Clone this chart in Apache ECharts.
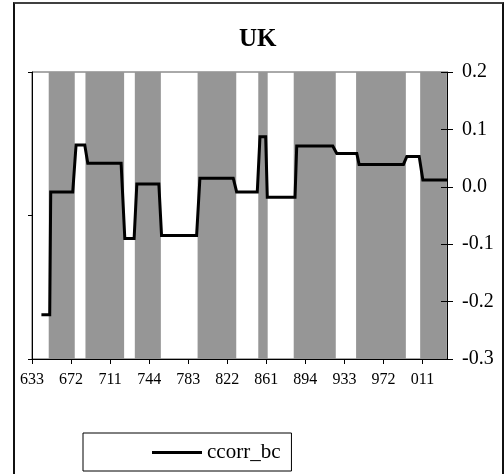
<!DOCTYPE html>
<html>
<head>
<meta charset="utf-8">
<script src="https://cdn.jsdelivr.net/npm/echarts@6/dist/echarts.min.js"></script>
<style>
  html, body { margin: 0; padding: 0; background: #fff; }
  #frame { position: absolute; left: 13px; top: 2px; width: 487px; height: 490px;
           border-top: 2px solid #404040; border-left: 2px solid #111; border-right: 2px solid #111; }
  #chart { position: absolute; left: 0; top: 0; width: 504px; height: 474px; }
</style>
</head>
<body>
<div id="frame"></div>
<div id="chart"></div>
<script>
// x positions are in "index" units: one tick label every 39 units
const tickLabels = ['633', '672', '711', '744', '783', '822', '861', '894', '933', '972', '011'];
const tickStep = 39;
const xMax = 414.5;

// step line ccorr_bc : [x, value]
const seriesName = 'ccorr_bc';
const lineX = [9.4, 17.7, 18.7, 40.7, 44, 52.7, 55.7, 89, 92.7, 102, 104.7, 126.7, 129.4, 164.4,
               167.7, 201, 204.4, 225, 227.7, 233.4, 235, 262.7, 264.4, 300.4, 304.4, 324.4,
               326.7, 371, 374.4, 386.7, 390.4, 414.5];
const lineY = [-0.223, -0.223, -0.009, -0.009, 0.073, 0.073, 0.041, 0.041, -0.09, -0.09, 0.005, 0.005,
               -0.085, -0.085, 0.015, 0.015, -0.009, -0.009, 0.087, 0.087, -0.018, -0.018, 0.071, 0.071,
               0.058, 0.058, 0.039, 0.039, 0.053, 0.053, 0.012, 0.012];

// shaded bands: start / end
const bandStart = [16.7, 53.4, 102.7, 165.4, 226.0, 261.4, 323.7, 387.7];
const bandEnd   = [42.7, 92.0, 128.7, 204.0, 235.4, 303.4, 373.4, 414.0];

const yMin = -0.3, yMax = 0.2, yStep = 0.1;

const FONT = "'Liberation Serif', 'Times New Roman', serif";

const chart = echarts.init(document.getElementById('chart'), null, { renderer: 'canvas' });

const lineData = lineX.map((x, i) => [x, lineY[i]]);
const bands = bandStart.map((s, i) => [
  { xAxis: s },
  { xAxis: bandEnd[i] }
]);

chart.setOption({
  animation: false,
  backgroundColor: 'transparent',
  title: {
    text: 'UK',
    left: 239,
    top: 27,
    padding: 0,
    textStyle: { fontFamily: FONT, fontSize: 25, fontWeight: 'bold', color: '#000' }
  },
  legend: {
    data: [{ name: seriesName, icon: 'rect' }],
    left: 83,
    top: 433,
    padding: [9, 11, 8, 69],
    borderColor: '#000',
    borderWidth: 1,
    itemWidth: 50,
    itemHeight: 3,
    itemStyle: { color: '#000' },
    textStyle: { fontFamily: FONT, fontSize: 21, color: '#000' }
  },
  grid: {
    left: 32, right: 57, top: 72, bottom: 115,
    show: true, borderColor: '#555', borderWidth: 1, backgroundColor: 'transparent'
  },
  xAxis: {
    type: 'value',
    min: 0, max: xMax, interval: tickStep,
    axisLine: { show: true, onZero: false, lineStyle: { color: '#000', width: 1 } },
    axisTick: { show: true, inside: false, length: 5, lineStyle: { color: '#000' } },
    splitLine: { show: false },
    axisLabel: {
      margin: 13,
      fontFamily: FONT, fontSize: 16, color: '#000',
      showMaxLabel: false,
      formatter: v => { const i = Math.round(v / tickStep); return (Math.abs(v - i * tickStep) < 1e-6 && tickLabels[i]) ? tickLabels[i] : ''; }
    }
  },
  yAxis: [
    {
      type: 'value', position: 'right', min: yMin, max: yMax, interval: yStep, z: 10,
      axisLine: { show: true, onZero: false, lineStyle: { color: '#000', width: 1 } },
      axisTick: { show: true, inside: false, length: 6, lineStyle: { color: '#000' } },
      splitLine: { show: false },
      axisLabel: {
        margin: 15, fontFamily: FONT, fontSize: 20, color: '#000',
        formatter: v => (Math.abs(v) < 1e-9 ? 0 : v).toFixed(1)
      }
    },
    {
      type: 'value', position: 'right', min: yMin, max: yMax, interval: yStep, z: 10,
      axisLine: { show: false, onZero: false },
      axisTick: { show: true, inside: true, length: 6, lineStyle: { color: '#000' } },
      axisLabel: { show: false },
      splitLine: { show: false }
    },
    {
      type: 'value', position: 'left', min: 0, max: 2, interval: 1, z: 10,
      axisLine: { show: true, onZero: false, lineStyle: { color: '#000', width: 1 } },
      axisTick: { show: true, inside: false, length: 4, lineStyle: { color: '#000' } },
      axisLabel: { show: false },
      splitLine: { show: false }
    }
  ],
  series: [
    {
      name: 'bands',
      type: 'line',
      data: [],
      z: 1,
      silent: true,
      markArea: {
        silent: true,
        itemStyle: { color: '#969696', opacity: 1 },
        data: bands
      }
    },
    {
      name: seriesName,
      type: 'line',
      data: lineData,
      z: 5,
      symbol: 'none',
      showSymbol: false,
      clip: false,
      color: '#000',
      lineStyle: { color: '#000', width: 3, join: 'miter' }
    }
  ]
});
</script>
</body>
</html>
